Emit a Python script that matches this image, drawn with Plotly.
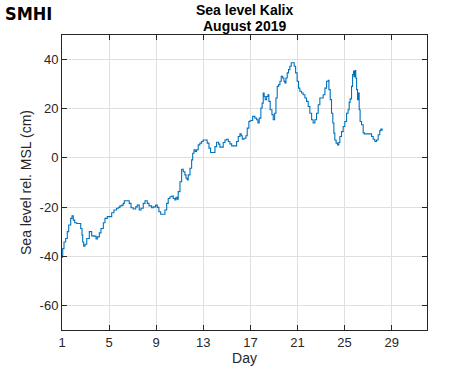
import plotly.graph_objects as go

# Day of month (August 2019) and sea level relative to MSL (cm)
day = [1.00, 1.03, 1.06, 1.17, 1.31, 1.45, 1.57, 1.74, 1.85, 1.96, 2.08, 2.25, 2.42, 2.59, 2.70,
       2.76, 2.84, 2.95, 3.10, 3.32, 3.52, 3.72, 3.89, 4.00, 4.17, 4.31, 4.51, 4.65, 4.85, 4.99,
       5.07, 5.22, 5.41, 5.64, 5.81, 5.92, 6.09, 6.20, 6.29, 6.58, 6.71, 6.86, 7.05, 7.26, 7.39,
       7.56, 7.71, 7.90, 8.05, 8.24, 8.39, 8.61, 8.75, 8.95, 9.09, 9.23, 9.38, 9.60, 9.74, 9.89,
       10.02, 10.17, 10.34, 10.45, 10.59, 10.68, 10.79, 10.87, 11.02, 11.16, 11.30, 11.44, 11.53,
       11.64, 11.72, 11.87, 12.01, 12.10, 12.21, 12.32, 12.43, 12.57, 12.71, 12.86, 12.99, 13.22,
       13.33, 13.48, 13.62, 13.84, 13.99, 14.13, 14.30, 14.41, 14.56, 14.69, 14.84, 14.98, 15.12,
       15.26, 15.41, 15.69, 15.83, 15.97, 16.11, 16.22, 16.31, 16.45, 16.62, 16.73, 16.87, 16.96,
       17.10, 17.19, 17.24, 17.38, 17.53, 17.64, 17.75, 17.89, 18.00, 18.09, 18.17, 18.26, 18.38,
       18.49, 18.57, 18.68, 18.83, 18.94, 19.06, 19.17, 19.28, 19.40, 19.51, 19.62, 19.74, 19.85,
       19.93, 20.02, 20.13, 20.24, 20.35, 20.47, 20.63, 20.72, 20.84, 20.97, 21.09, 21.20, 21.35,
       21.48, 21.63, 21.77, 21.91, 22.05, 22.20, 22.33, 22.48, 22.62, 22.76, 22.90, 23.05, 23.18,
       23.33, 23.47, 23.61, 23.67, 23.78, 23.89, 24.00, 24.09, 24.17, 24.28, 24.40, 24.51, 24.60,
       24.74, 24.88, 25.02, 25.17, 25.30, 25.39, 25.47, 25.59, 25.68, 25.76, 25.81, 25.87, 25.95,
       26.02, 26.10, 26.15, 26.24, 26.32, 26.44, 26.58, 26.66, 26.78, 27.00, 27.29, 27.43, 27.57,
       27.71, 27.85, 27.99, 28.08, 28.19, 28.27]
level = [-40.5, -39.6, -36.9, -34.2, -32.8, -30.0, -27.3, -24.6, -23.5, -25.3, -26.4, -26.7, -26.7,
         -28.7, -31.4, -34.2, -35.9, -35.1, -32.8, -30.0, -31.7, -31.8, -33.0, -32.1, -30.5, -28.7,
         -26.4, -24.6, -23.9, -23.9, -23.9, -22.3, -21.2, -20.5, -20.1, -19.5, -19.2, -18.5, -17.4,
         -17.4, -18.5, -20.3, -20.8, -19.9, -19.2, -21.2, -20.5, -18.5, -17.4, -18.5, -19.5, -20.3,
         -19.9, -19.2, -20.1, -21.9, -22.9, -22.9, -21.2, -18.5, -16.5, -15.8, -15.5, -16.5, -17.1,
         -16.0, -16.8, -13.7, -9.7, -4.6, -5.6, -6.9, -8.3, -9.0, -6.9, -4.2, -0.8, 1.9, 3.3, 2.6,
         3.3, 5.3, 6.0, 6.7, 7.3, 7.3, 6.0, 4.0, 2.2, 2.2, 4.6, 6.4, 5.6, 4.4, 4.4, 6.3, 7.3, 7.6,
         6.7, 5.7, 4.9, 4.9, 6.7, 8.7, 9.8, 9.0, 7.6, 8.0, 9.0, 12.1, 14.8, 15.1, 15.2, 16.9, 16.9,
         16.2, 15.5, 14.2, 16.2, 20.3, 22.3, 26.4, 25.0, 23.7, 25.0, 25.7, 23.0, 19.6, 17.6, 15.5,
         18.2, 24.4, 29.1, 29.8, 31.2, 33.2, 32.5, 31.2, 30.5, 32.5, 34.6, 35.9, 37.3, 38.7, 38.7,
         37.3, 34.6, 31.2, 28.4, 27.1, 26.4, 25.7, 24.4, 23.0, 20.9, 18.2, 15.5, 14.2, 15.5, 18.2,
         21.6, 24.4, 24.4, 25.7, 28.4, 31.2, 31.6, 27.8, 23.7, 18.2, 14.2, 10.1, 7.3, 6.0, 5.3, 6.3,
         8.7, 10.7, 12.8, 14.8, 18.2, 19.6, 22.6, 24.0, 29.1, 33.9, 35.2, 33.0, 35.5, 32.5, 27.8,
         23.7, 26.4, 19.6, 14.8, 13.5, 10.3, 9.8, 9.8, 9.8, 8.7, 7.6, 6.7, 7.3, 9.4, 11.1, 11.7,
         11.1]

x_ticks = [1, 5, 9, 13, 17, 21, 25, 29]
y_ticks = [-60, -40, -20, 0, 20, 40]
y_tick_labels = ["-60", "-40", "-20", "0", "20", "40"]
x_range = [1, 32]
y_range = [-70, 50]

FONT = "Liberation Sans, Arial, sans-serif"

fig = go.Figure()
fig.add_trace(go.Scatter(x=day, y=level, mode="lines", line_shape="hv",
                         line=dict(color="#0072BD", width=1.1), showlegend=False))

axis_common = dict(
    showline=True, linecolor="#262626", linewidth=1, mirror="ticks",
    ticks="inside", ticklen=5, tickcolor="#262626",
    showgrid=True, gridcolor="#dfdfdf", gridwidth=1, zeroline=False,
    automargin=False,
    tickfont=dict(family=FONT, size=13, color="#262626"),
)

fig.update_xaxes(range=x_range, tickvals=x_ticks, **axis_common,
                 title=dict(text="Day", standoff=2,
                            font=dict(family=FONT, size=14, color="#262626")))
fig.update_yaxes(range=y_range, tickvals=y_ticks, ticktext=y_tick_labels, **axis_common,
                 title=dict(text="Sea level rel. MSL (cm)", standoff=4,
                            font=dict(family=FONT, size=14, color="#262626")))

fig.update_layout(
    width=471, height=371,
    margin=dict(l=62, r=44, t=35, b=41, autoexpand=False),
    paper_bgcolor="white", plot_bgcolor="white",
    annotations=[
        dict(text="<b>Sea level Kalix</b>", xref="paper", yref="paper", x=0.5, y=1.0,
             yshift=35, xanchor="center", yanchor="top", showarrow=False,
             font=dict(family=FONT, size=14, color="black")),
        dict(text="<b>August 2019</b>", xref="paper", yref="paper", x=0.5, y=1.0,
             yshift=19, xanchor="center", yanchor="top", showarrow=False,
             font=dict(family=FONT, size=14, color="black")),
        dict(text="<b>SMHI</b>", xref="paper", yref="paper", x=0.0, y=1.0,
             xshift=-59, yshift=34, xanchor="left", yanchor="top", showarrow=False,
             font=dict(family="DejaVu Sans Condensed, Liberation Sans Narrow, sans-serif",
                       size=18, color="black")),
    ],
)

fig.write_html("out.html", config={"displayModeBar": False},
               post_script="document.body.style.margin='0';document.body.style.overflow='hidden';")
